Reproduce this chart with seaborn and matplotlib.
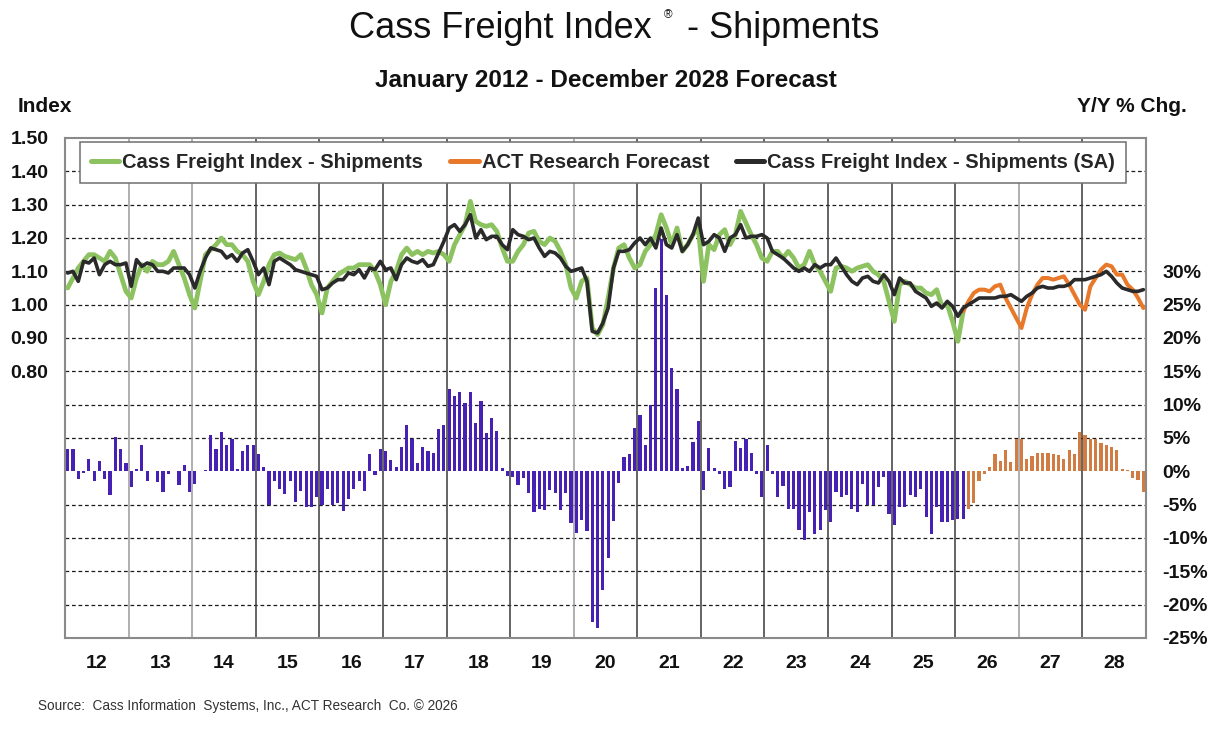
"""
Cass Freight Index - Shipments, Jan 2012 - Dec 2028 forecast.
Index lines on the left axis, Y/Y % change bars on the right axis.
"""

import numpy as np
import pandas as pd
import matplotlib
matplotlib.use("Agg")
import matplotlib.pyplot as plt
import seaborn as sns

# ---- data (monthly) ----
year_labels = ["12", "13", "14", "15", "16", "17", "18", "19", "20",
               "21", "22", "23", "24", "25", "26", "27", "28"]

# actual, not seasonally adjusted: Jan 2012 - Feb 2026
cass_nsa = [
    1.05, 1.08, 1.11, 1.13, 1.15, 1.15, 1.14, 1.13, 1.16, 1.14, 1.09, 1.04,   # 2012
    1.02, 1.08, 1.12, 1.10, 1.13, 1.12, 1.12, 1.13, 1.16, 1.12, 1.08, 1.03,   # 2013
    0.99, 1.07, 1.15, 1.165, 1.18, 1.20, 1.18, 1.18, 1.16, 1.15, 1.13, 1.07,  # 2014
    1.03, 1.07, 1.12, 1.15, 1.155, 1.145, 1.14, 1.135, 1.15, 1.11, 1.06, 1.03,  # 2015
    0.975, 1.05, 1.07, 1.09, 1.10, 1.11, 1.11, 1.12, 1.12, 1.12, 1.10, 1.06,  # 2016
    1.00, 1.07, 1.10, 1.15, 1.17, 1.15, 1.16, 1.15, 1.16, 1.155, 1.16, 1.15,  # 2017
    1.13, 1.18, 1.21, 1.24, 1.31, 1.25, 1.24, 1.235, 1.24, 1.22, 1.17, 1.13,  # 2018
    1.13, 1.16, 1.18, 1.215, 1.22, 1.19, 1.18, 1.20, 1.19, 1.16, 1.12, 1.05,  # 2019
    1.02, 1.07, 1.08, 0.93, 0.91, 0.94, 1.02, 1.11, 1.17, 1.18, 1.14, 1.11,   # 2020
    1.12, 1.16, 1.18, 1.21, 1.27, 1.23, 1.18, 1.23, 1.16, 1.18, 1.21, 1.23,   # 2021
    1.07, 1.18, 1.165, 1.21, 1.225, 1.18, 1.21, 1.28, 1.245, 1.21, 1.18, 1.14,  # 2022
    1.13, 1.16, 1.16, 1.14, 1.16, 1.14, 1.11, 1.12, 1.16, 1.12, 1.10, 1.07,   # 2023
    1.04, 1.11, 1.115, 1.11, 1.10, 1.11, 1.115, 1.12, 1.10, 1.09, 1.07, 1.01,  # 2024
    0.95, 1.06, 1.07, 1.06, 1.05, 1.05, 1.035, 1.03, 1.045, 0.995, 1.00, 0.95,  # 2025
    0.89, 0.98,                                                               # 2026
]

# ACT Research forecast: Mar 2026 - Dec 2028
act_forecast = [
    1.01, 1.035, 1.045, 1.045, 1.04, 1.055, 1.06, 1.02, 0.99, 0.96,           # 2026
    0.93, 0.99, 1.03, 1.06, 1.08, 1.08, 1.075, 1.08, 1.085, 1.06, 1.03, 1.00,  # 2027
    0.985, 1.055, 1.08, 1.105, 1.12, 1.115, 1.09, 1.09, 1.06, 1.045, 1.02, 0.99,  # 2028
]

# seasonally adjusted: Jan 2012 - Dec 2028
cass_sa = [
    1.095, 1.10, 1.07, 1.13, 1.125, 1.14, 1.09, 1.12, 1.13, 1.12, 1.12, 1.125,   # 2012
    1.055, 1.135, 1.115, 1.125, 1.12, 1.10, 1.10, 1.095, 1.11, 1.11, 1.11, 1.09,  # 2013
    1.05, 1.10, 1.14, 1.17, 1.165, 1.16, 1.14, 1.15, 1.13, 1.155, 1.165, 1.13,    # 2014
    1.09, 1.11, 1.06, 1.13, 1.14, 1.13, 1.12, 1.105, 1.10, 1.095, 1.09, 1.085,    # 2015
    1.045, 1.05, 1.065, 1.075, 1.075, 1.095, 1.09, 1.105, 1.08, 1.11, 1.105, 1.13,  # 2016
    1.105, 1.11, 1.075, 1.12, 1.14, 1.13, 1.125, 1.135, 1.115, 1.12, 1.155, 1.19,  # 2017
    1.23, 1.24, 1.22, 1.24, 1.27, 1.20, 1.225, 1.195, 1.205, 1.205, 1.18, 1.165,  # 2018
    1.225, 1.21, 1.205, 1.195, 1.20, 1.17, 1.145, 1.16, 1.155, 1.14, 1.115, 1.10,  # 2019
    1.105, 1.11, 1.07, 0.92, 0.915, 0.945, 0.99, 1.11, 1.16, 1.16, 1.165, 1.185,  # 2020
    1.20, 1.18, 1.20, 1.17, 1.23, 1.18, 1.17, 1.21, 1.16, 1.18, 1.21, 1.26,       # 2021
    1.18, 1.19, 1.21, 1.20, 1.16, 1.20, 1.21, 1.24, 1.20, 1.205, 1.205, 1.21,     # 2022
    1.20, 1.16, 1.15, 1.14, 1.125, 1.11, 1.10, 1.11, 1.10, 1.12, 1.11, 1.12,      # 2023
    1.12, 1.14, 1.115, 1.09, 1.07, 1.06, 1.08, 1.085, 1.07, 1.065, 1.09, 1.07,    # 2024
    1.03, 1.08, 1.065, 1.065, 1.04, 1.03, 1.02, 0.995, 1.005, 0.99, 1.01, 0.995,  # 2025
    0.965, 0.99, 1.00, 1.01, 1.02, 1.02, 1.02, 1.02, 1.025, 1.025, 1.03, 1.02,    # 2026
    1.01, 1.025, 1.035, 1.05, 1.055, 1.05, 1.05, 1.055, 1.055, 1.06, 1.075, 1.075,  # 2027
    1.075, 1.08, 1.085, 1.09, 1.10, 1.085, 1.065, 1.05, 1.045, 1.04, 1.04, 1.045,   # 2028
]

# Y/Y % change, actual: Jan 2012 - Feb 2026
yoy_actual = [
    3.4, 3.4, -1.1, -0.3, 1.9, -1.4, 1.6, -1.1, -3.6, 5.2, 3.4, 1.2,          # 2012
    -2.4, 0.4, 4.0, -1.4, 0.0, -1.6, -3.1, -0.4, 0.1, -2.0, 0.9, -3.1,        # 2013
    -1.9, 0.1, 0.2, 5.4, 3.4, 5.9, 3.9, 4.9, 0.4, 3.1, 4.0, 3.9,              # 2014
    2.6, 0.7, -5.1, -1.4, -2.6, -3.4, -1.4, -4.6, -2.9, -5.3, -5.3, -3.8,     # 2015
    -5.1, -2.6, -5.1, -4.8, -5.9, -4.1, -2.6, -1.4, -2.9, 2.6, -0.6, 3.4,     # 2016
    3.0, 1.7, 0.7, 3.7, 7.0, 4.8, 1.3, 3.7, 3.0, 2.8, 6.3, 7.0,               # 2017
    12.3, 11.3, 11.9, 10.2, 11.9, 7.3, 10.5, 5.7, 8.0, 6.0, 0.5, -0.7,        # 2018
    -0.9, -2.1, -1.0, -3.3, -6.1, -5.6, -5.8, -2.8, -3.3, -5.8, -3.3, -7.8,   # 2019
    -9.3, -7.3, -9.0, -22.6, -23.5, -17.8, -13.0, -7.5, -1.8, 2.2, 2.6, 6.5,  # 2020
    8.5, 4.0, 9.9, 27.5, 34.9, 26.5, 15.5, 12.3, 0.5, 0.75, 4.4, 7.5,         # 2021
    -2.85, 3.5, 0.5, -0.35, -2.6, -2.35, 4.5, 3.5, 4.9, 2.75, -0.35, -3.85,   # 2022
    4.0, -0.35, -3.85, -2.2, -5.6, -5.6, -8.85, -10.35, -6.1, -9.35, -8.85, -5.85,  # 2023
    -7.6, -3.1, -3.85, -3.6, -5.6, -6.1, -1.85, -5.1, -5.1, -2.35, -0.85, -6.35,   # 2024
    -8.1, -5.35, -5.35, -3.6, -3.85, -2.6, -6.85, -9.35, -5.35, -7.6, -7.6, -7.35,  # 2025
    -7.1, -7.1,                                                                      # 2026
]

# Y/Y % change, forecast: Mar 2026 - Dec 2028
yoy_forecast = [
    -5.6, -4.8, -1.4, -0.4, 0.6, 2.6, 1.6, 3.2, 1.4, 4.9,                     # 2026
    4.9, 1.9, 2.3, 2.7, 2.7, 2.7, 2.6, 2.4, 1.9, 3.2, 2.6, 5.9,               # 2027
    5.4, 4.9, 4.9, 4.2, 3.9, 3.6, 3.2, 0.4, 0.2, -1.0, -1.3, -3.1,            # 2028
]

GREEN = "#8DC260"
ORANGE = "#E8782A"
BLACK = "#2A2A2A"
PURPLE = "#3A08CC"

sns.set_style("white")
plt.rcParams["font.family"] = ["Liberation Sans", "DejaVu Sans"]

months = np.arange(len(cass_sa))
n_act = len(cass_nsa)

W, H = 1232, 730
fig = plt.figure(figsize=(W / 100, H / 100), dpi=100)
ax = fig.add_axes([65 / W, 1 - 638 / H, (1146 - 65) / W, (638 - 138) / H])
ax2 = ax.twinx()

# ---- Y/Y bars on the right axis ----
bars = pd.DataFrame({
    "month": months,
    "yoy": yoy_actual + yoy_forecast,
    "kind": ["actual"] * len(yoy_actual) + ["forecast"] * len(yoy_forecast),
})
sns.barplot(data=bars, x="month", y="yoy", hue="kind",
            palette={"actual": PURPLE, "forecast": ORANGE},
            native_scale=True, dodge=False, width=0.6, errorbar=None,
            linewidth=0, legend=False, ax=ax2, zorder=3)

# gridlines (dashed, none at 0%) and year separators
for pct in range(-20, 50, 5):
    if pct != 0:
        ax2.axhline(pct, color="#1a1a1a", lw=0.9, ls=(0, (3, 2.2)), zorder=1)
light_years = {1, 2, 8, 15}
for k in range(1, len(year_labels)):
    ax2.axvline(12 * k - 0.5, color="#9a9a9a" if k in light_years else "#3a3a3a",
                lw=1.1, zorder=1)

# ---- index lines on the left axis ----
sns.lineplot(x=months[:n_act], y=cass_nsa, color=GREEN, lw=3.4,
             label="Cass Freight Index - Shipments", ax=ax, zorder=3,
             solid_joinstyle="round")
sns.lineplot(x=months[n_act - 1:], y=[cass_nsa[-1]] + act_forecast, color=ORANGE,
             lw=2.9, label="ACT Research Forecast", ax=ax, zorder=4,
             solid_joinstyle="round")
sns.lineplot(x=months, y=cass_sa, color=BLACK, lw=2.6,
             label="Cass Freight Index - Shipments (SA)", ax=ax, zorder=5,
             solid_joinstyle="round")

ax.set_zorder(ax2.get_zorder() + 1)
ax.patch.set_visible(False)

ax.set_xlim(-0.5, len(months) - 0.5)
ax2.set_xlim(-0.5, len(months) - 0.5)
ax.set_ylim(0, 1.5)
ax2.set_ylim(-25, 50)

tick_font = dict(fontsize=14, fontweight="bold", color="#111111")

left_ticks = np.round(np.arange(0.8, 1.51, 0.1), 2)
ax.set_yticks(left_ticks)
ax.set_yticklabels([f"{v:.2f}" for v in left_ticks], **tick_font)
ax.set_xticks([12 * k + 5.5 for k in range(len(year_labels))])
ax.set_xticklabels(year_labels, **tick_font)
ax.tick_params(axis="y", length=0, pad=12)
ax.tick_params(axis="x", length=0, pad=12)

right_ticks = list(range(-25, 31, 5))
ax2.set_yticks(right_ticks)
ax2.set_yticklabels([f"{v}%" for v in right_ticks], **tick_font)
ax2.tick_params(axis="y", length=0, pad=12)

for a in (ax, ax2):
    a.set_xlabel("")
    a.set_ylabel("")
for s in ax2.spines.values():
    s.set_visible(False)
for s in ax.spines.values():
    s.set_visible(True)
    s.set_color("#8a8a8a")
    s.set_linewidth(1.5)

# ---- legend ----
handles, labels = ax.get_legend_handles_labels()
leg = ax.legend(handles, labels, ncol=3, loc="upper left",
                bbox_to_anchor=(80 / W, 1 - 142 / H), bbox_transform=fig.transFigure,
                frameon=True, fancybox=False, framealpha=1, edgecolor="#6f6f6f",
                prop={"size": 14.5, "weight": "bold"}, handlelength=1.4,
                handletextpad=0.15, columnspacing=1.35, borderpad=0.55,
                borderaxespad=0)
leg.get_frame().set_linewidth(1.1)
for line in leg.get_lines():
    line.set_linewidth(3.6)

# ---- titles and notes ----
fig.text(652 / W, 1 - 29 / H, "Cass Freight Index", ha="right", va="center",
         fontsize=26, color="#111111")
fig.text(668 / W, 1 - 15 / H, "®", ha="center", va="center", fontsize=8.5,
         color="#111111")
fig.text(687 / W, 1 - 29 / H, "- Shipments", ha="left", va="center",
         fontsize=26, color="#111111")
fig.text(606 / W, 1 - 81 / H, "January 2012 - December 2028 Forecast",
         ha="center", va="center", fontsize=17.5, fontweight="bold", color="#111111")
fig.text(18 / W, 1 - 107 / H, "Index", ha="left", va="center",
         fontsize=15, fontweight="bold", color="#111111")
fig.text(1187 / W, 1 - 107 / H, "Y/Y % Chg.", ha="right", va="center",
         fontsize=15, fontweight="bold", color="#111111")
fig.text(38 / W, 1 - 706 / H,
         "Source:  Cass Information  Systems, Inc., ACT Research  Co. \u00a9 2026",
         ha="left", va="center", fontsize=9.8, color="#333333")

fig.savefig("out.png", dpi=100)
